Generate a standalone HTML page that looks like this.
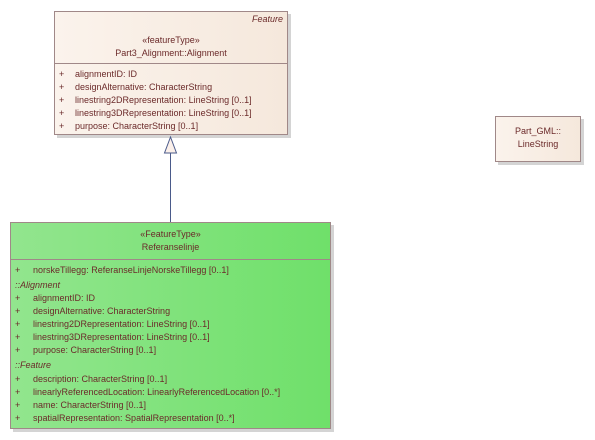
<!DOCTYPE html>
<html><head><style>
body{margin:0;width:595px;height:440px;background:#fff;position:relative;overflow:hidden;font-family:"Liberation Sans",sans-serif;font-size:9px;color:#6b2a2a}
.box{position:absolute;border:1px solid #a08888;box-shadow:3px 3px 0 #d4d4d4;box-sizing:border-box}
.t{position:absolute;white-space:nowrap;letter-spacing:0px}
.c{text-align:center;left:0;right:0}
.sep{position:absolute;left:0;right:0;height:1px;background:#a08888}
.i{font-style:italic}
</style></head><body>
<div class="box" style="left:54px;top:11px;width:234px;height:124px;background:linear-gradient(90deg,#fbf3ec,#f5e8dc)">
 <div class="t i" style="right:4px;top:2px">Feature</div>
 <div class="t c" style="top:23px">«featureType»</div>
 <div class="t c" style="top:36px">Part3_Alignment::Alignment</div>
 <div class="sep" style="top:51px"></div>
 <div class="t" style="left:4px;top:57px">+</div><div class="t" style="left:20px;top:57px">alignmentID: ID</div>
 <div class="t" style="left:4px;top:70px">+</div><div class="t" style="left:20px;top:70px">designAlternative: CharacterString</div>
 <div class="t" style="left:4px;top:83px">+</div><div class="t" style="left:20px;top:83px">linestring2DRepresentation: LineString [0..1]</div>
 <div class="t" style="left:4px;top:96px">+</div><div class="t" style="left:20px;top:96px">linestring3DRepresentation: LineString [0..1]</div>
 <div class="t" style="left:4px;top:109px">+</div><div class="t" style="left:20px;top:109px">purpose: CharacterString [0..1]</div>
</div>
<svg style="position:absolute;left:0;top:0" width="595" height="440">
 <line x1="170.5" y1="153" x2="170.5" y2="222" stroke="#4a5a8a" stroke-width="1"/>
 <polygon points="170.5,137 164.5,153 176.5,153" fill="#fbf0ea" stroke="#4a5a8a" stroke-width="1"/>
</svg>
<div class="box" style="left:10px;top:222px;width:321px;height:207px;background:linear-gradient(90deg,#92e58e,#6fe06a)">
 <div class="t c" style="top:6px">«FeatureType»</div>
 <div class="t c" style="top:19px">Referanselinje</div>
 <div class="sep" style="top:36px"></div>
 <div class="t" style="left:4px;top:42px">+</div><div class="t" style="left:22px;top:42px">norskeTillegg: ReferanseLinjeNorskeTillegg [0..1]</div>
 <div class="t i" style="left:4px;top:57px">::Alignment</div>
 <div class="t" style="left:4px;top:70px">+</div><div class="t" style="left:22px;top:70px">alignmentID: ID</div>
 <div class="t" style="left:4px;top:83px">+</div><div class="t" style="left:22px;top:83px">designAlternative: CharacterString</div>
 <div class="t" style="left:4px;top:96px">+</div><div class="t" style="left:22px;top:96px">linestring2DRepresentation: LineString [0..1]</div>
 <div class="t" style="left:4px;top:109px">+</div><div class="t" style="left:22px;top:109px">linestring3DRepresentation: LineString [0..1]</div>
 <div class="t" style="left:4px;top:122px">+</div><div class="t" style="left:22px;top:122px">purpose: CharacterString [0..1]</div>
 <div class="t i" style="left:4px;top:137px">::Feature</div>
 <div class="t" style="left:4px;top:151px">+</div><div class="t" style="left:22px;top:151px">description: CharacterString [0..1]</div>
 <div class="t" style="left:4px;top:164px">+</div><div class="t" style="left:22px;top:164px">linearlyReferencedLocation: LinearlyReferencedLocation [0..*]</div>
 <div class="t" style="left:4px;top:177px">+</div><div class="t" style="left:22px;top:177px">name: CharacterString [0..1]</div>
 <div class="t" style="left:4px;top:190px">+</div><div class="t" style="left:22px;top:190px">spatialRepresentation: SpatialRepresentation [0..*]</div>
</div>
<div class="box" style="left:495px;top:116px;width:86px;height:46px;background:linear-gradient(90deg,#fbf3ec,#f5e8dc)">
 <div class="t c" style="top:9px">Part_GML::</div>
 <div class="t c" style="top:22px">LineString</div>
</div>
</body></html>
